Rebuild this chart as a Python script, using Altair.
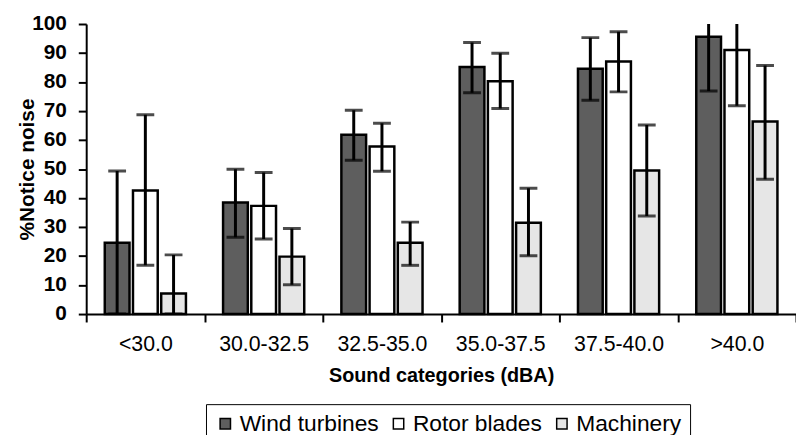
import altair as alt
import pandas as pd

categories = ["<30.0", "30.0-32.5", "32.5-35.0", "35.0-37.5", "37.5-40.0", ">40.0"]
series = ["Wind turbines", "Rotor blades", "Machinery"]

wind_turbines = [24.6, 38.5, 61.8, 85.2, 84.6, 95.6]
wind_lo = [0, 26.5, 53.0, 76.3, 73.7, 76.9]
wind_hi = [49.3, 49.9, 70.3, 93.6, 95.3, 101]

rotor_blades = [42.6, 37.3, 57.8, 80.3, 87.1, 91.0]
rotor_lo = [16.8, 25.9, 49.2, 70.9, 76.6, 71.8]
rotor_hi = [68.7, 48.8, 65.8, 89.9, 97.3, 101]

machinery = [7.1, 19.8, 24.6, 31.5, 49.5, 66.4]
mach_lo = [0, 10.1, 16.8, 20.1, 33.8, 46.5]
mach_hi = [20.4, 29.5, 31.7, 43.4, 65.2, 85.7]

y_ticks = [0, 10, 20, 30, 40, 50, 60, 70, 80, 90, 100]

fills = ["#5e5e5e", "#ffffff", "#e6e6e6"]

rows = []
for s, vals, lo, hi in [
    (series[0], wind_turbines, wind_lo, wind_hi),
    (series[1], rotor_blades, rotor_lo, rotor_hi),
    (series[2], machinery, mach_lo, mach_hi),
]:
    for c, v, l, h in zip(categories, vals, lo, hi):
        rows.append({"category": c, "series": s, "value": v, "lo": l, "hi": h})
df = pd.DataFrame(rows)

FONT = "Liberation Sans"

x = alt.X(
    "category:N",
    sort=categories,
    scale=alt.Scale(paddingInner=0, paddingOuter=0),
    axis=alt.Axis(
        title="Sound categories (dBA)",
        labelAngle=0,
        tickBand="extent",
        tickSize=8,
        tickWidth=2,
        tickColor="black",
        domainColor="black",
        domainWidth=2,
        labelFont=FONT,
        labelFontSize=21.5,
        labelColor="black",
        labelPadding=12,
        titleFont=FONT,
        titleFontSize=20,
        titleFontWeight="bold",
        titleColor="black",
        titlePadding=11,
    ),
)
xoff = alt.XOffset(
    "series:N",
    sort=series,
    scale=alt.Scale(paddingInner=0.123, paddingOuter=0.658),
)
yscale = alt.Scale(domain=[0, 100], nice=False)
yaxis = alt.Axis(
    title="%Notice noise",
    values=y_ticks,
    labelOverlap=False,
    grid=False,
    tickSize=8,
    tickWidth=2,
    tickColor="black",
    domainColor="black",
    domainWidth=2,
    labelFont=FONT,
    labelFontSize=21,
    labelFontWeight="bold",
    labelColor="black",
    labelPadding=12,
    titleFont=FONT,
    titleFontSize=21,
    titleFontWeight="bold",
    titleColor="black",
    titleX=-49,
)

bars = alt.Chart(df).mark_bar(stroke="black", strokeWidth=2.5).encode(
    x=x,
    xOffset=xoff,
    y=alt.Y("value:Q", scale=yscale, axis=yaxis),
    fill=alt.Fill(
        "series:N",
        sort=series,
        scale=alt.Scale(domain=series, range=fills),
        legend=alt.Legend(
            title=None,
            orient="none",
            direction="horizontal",
            legendX=121,
            legendY=384,
            symbolType="square",
            symbolSize=110,
            symbolStrokeColor="black",
            symbolStrokeWidth=1.5,
            labelFont=FONT,
            labelFontSize=23,
            labelColor="black",
            labelOffset=3,
            columnPadding=8,
            padding=8,
            strokeColor="black",
            fillColor="white",
        ),
    ),
)

rules = alt.Chart(df).mark_rule(color="black", strokeWidth=3, clip=True).encode(
    x=x,
    xOffset=xoff,
    y=alt.Y("lo:Q", scale=yscale, axis=yaxis),
    y2="hi:Q",
)

caps_hi = alt.Chart(df).mark_tick(color="black", thickness=3, size=18, clip=True).encode(
    x=x,
    xOffset=xoff,
    y=alt.Y("hi:Q", scale=yscale, axis=yaxis),
)
caps_lo = alt.Chart(df).mark_tick(color="black", thickness=3, size=18, clip=True).encode(
    x=x,
    xOffset=xoff,
    y=alt.Y("lo:Q", scale=yscale, axis=yaxis),
)

chart = (
    alt.layer(bars, rules, caps_hi, caps_lo)
    .properties(
        width=717,
        height=293,
        autosize=alt.AutoSizeParams(type="none"),
        padding={"left": 79, "top": 14, "right": 0, "bottom": 120},
        background="white",
    )
    .configure_view(stroke=None)
)

chart.save("out.html", embed_options={"renderer": "svg", "actions": False})
